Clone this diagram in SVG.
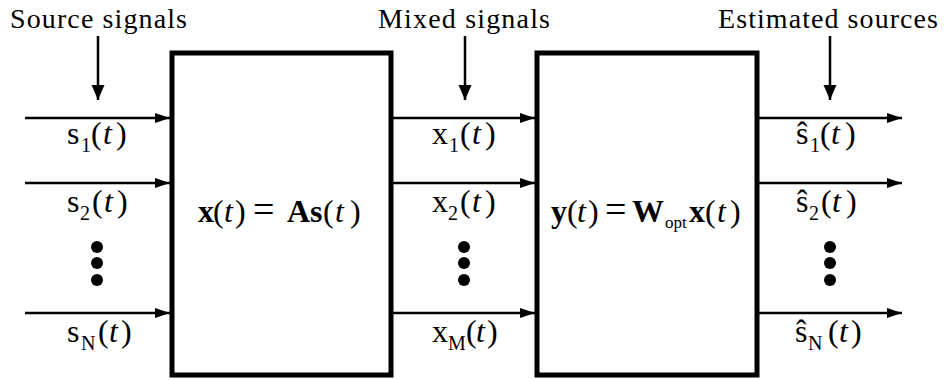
<svg xmlns="http://www.w3.org/2000/svg" width="944" height="380" viewBox="0 0 944 380">
<defs>
<style>
.box{fill:#fff;stroke:#000;stroke-width:5}
.ln{stroke:#000;stroke-width:2.5;fill:none}
.dn{stroke:#000;stroke-width:2.5;fill:none}
text{font-family:'Liberation Serif','DejaVu Serif',serif;fill:#000}
.hd{font-size:28px}
.lb{font-size:32px}
.sb{font-size:20px}
.it{font-style:italic}
.bd{font-weight:bold}
.dot{fill:#000}
</style>
<marker id="ah" markerUnits="userSpaceOnUse" markerWidth="16" markerHeight="11" refX="15" refY="5" orient="auto">
<path d="M0,0 L15,5 L0,10 Z" fill="#000"/>
</marker>
<marker id="ahd" markerUnits="userSpaceOnUse" markerWidth="16" markerHeight="14" refX="15" refY="6.5" orient="auto">
<path d="M0,0 L15,6.5 L0,13 Z" fill="#000"/>
</marker>
</defs>
<rect width="944" height="380" fill="#fff"/>

<g id="connectors">
<line class="dn" x1="98" y1="36" x2="98" y2="100" marker-end="url(#ahd)"/>
<line class="dn" x1="465" y1="36" x2="465" y2="100" marker-end="url(#ahd)"/>
<line class="dn" x1="830" y1="36" x2="830" y2="100" marker-end="url(#ahd)"/>
<line class="ln" x1="25" y1="118" x2="170" y2="118" marker-end="url(#ah)"/>
<line class="ln" x1="25" y1="183" x2="170" y2="183" marker-end="url(#ah)"/>
<line class="ln" x1="25" y1="313" x2="170" y2="313" marker-end="url(#ah)"/>
<line class="ln" x1="393" y1="118" x2="535" y2="118" marker-end="url(#ah)"/>
<line class="ln" x1="393" y1="183" x2="535" y2="183" marker-end="url(#ah)"/>
<line class="ln" x1="393" y1="313" x2="535" y2="313" marker-end="url(#ah)"/>
<line class="ln" x1="759" y1="118" x2="902" y2="118" marker-end="url(#ah)"/>
<line class="ln" x1="759" y1="183" x2="902" y2="183" marker-end="url(#ah)"/>
<line class="ln" x1="759" y1="313" x2="902" y2="313" marker-end="url(#ah)"/>
</g>

<g id="mixing">
<rect class="box" x="172" y="53" width="219" height="322"/>
<text class="lb" y="222"><tspan class="bd" x="198">x</tspan><tspan x="213">(</tspan><tspan class="it" x="224">t</tspan><tspan x="235">)</tspan><tspan x="253" style="font-size:38px">=</tspan><tspan class="bd" x="287">A</tspan><tspan class="bd" x="310">s</tspan><tspan x="323">(</tspan><tspan class="it" x="335">t</tspan><tspan x="350">)</tspan></text>
</g>

<g id="separation">
<rect class="box" x="537" y="53" width="220" height="322"/>
<text class="lb" y="222"><tspan class="bd" x="551">y</tspan><tspan x="567">(</tspan><tspan class="it" x="577">t</tspan><tspan x="588">)</tspan><tspan x="605" style="font-size:38px">=</tspan><tspan class="bd" x="632">W</tspan><tspan x="665" dy="6" style="font-size:17px">opt</tspan><tspan class="bd" x="689" dy="-6">x</tspan><tspan x="705">(</tspan><tspan class="it" x="717">t</tspan><tspan x="730">)</tspan></text>
</g>

<g id="sources">
<text class="hd" x="10" y="28" textLength="177" lengthAdjust="spacing">Source signals</text>
<text class="lb" y="144"><tspan x="67">s</tspan><tspan class="sb" x="81" dy="8">1</tspan><tspan x="91" dy="-8">(</tspan><tspan class="it" x="103">t</tspan><tspan x="116">)</tspan></text>
<text class="lb" y="212"><tspan x="67">s</tspan><tspan class="sb" x="80" dy="8">2</tspan><tspan x="92" dy="-8">(</tspan><tspan class="it" x="104">t</tspan><tspan x="117">)</tspan></text>
<circle class="dot" cx="97" cy="247" r="6"/>
<circle class="dot" cx="97" cy="263" r="6"/>
<circle class="dot" cx="97" cy="280" r="6"/>
<text class="lb" y="342"><tspan x="67">s</tspan><tspan class="sb" x="81" dy="8">N</tspan><tspan x="98" dy="-8">(</tspan><tspan class="it" x="109">t</tspan><tspan x="121">)</tspan></text>
</g>

<g id="mixed">
<text class="hd" x="378" y="28" textLength="172" lengthAdjust="spacing">Mixed signals</text>
<text class="lb" y="144"><tspan x="432">x</tspan><tspan class="sb" x="449" dy="8">1</tspan><tspan x="460" dy="-8">(</tspan><tspan class="it" x="472">t</tspan><tspan x="485">)</tspan></text>
<text class="lb" y="212"><tspan x="432">x</tspan><tspan class="sb" x="448" dy="8">2</tspan><tspan x="460" dy="-8">(</tspan><tspan class="it" x="472">t</tspan><tspan x="485">)</tspan></text>
<circle class="dot" cx="464" cy="247" r="6"/>
<circle class="dot" cx="464" cy="263" r="6"/>
<circle class="dot" cx="464" cy="280" r="6"/>
<text class="lb" y="342"><tspan x="432">x</tspan><tspan class="sb" x="448" dy="8">M</tspan><tspan x="466" dy="-8">(</tspan><tspan class="it" x="476">t</tspan><tspan x="487">)</tspan></text>
</g>

<g id="estimated">
<text class="hd" x="718" y="28" textLength="220" lengthAdjust="spacing">Estimated sources</text>
<text class="lb" y="144"><tspan x="796">ŝ</tspan><tspan class="sb" x="810" dy="8">1</tspan><tspan x="820" dy="-8">(</tspan><tspan class="it" x="831">t</tspan><tspan x="845">)</tspan></text>
<text class="lb" y="212"><tspan x="796">ŝ</tspan><tspan class="sb" x="809" dy="8">2</tspan><tspan x="821" dy="-8">(</tspan><tspan class="it" x="832">t</tspan><tspan x="846">)</tspan></text>
<circle class="dot" cx="830" cy="247" r="6"/>
<circle class="dot" cx="830" cy="263" r="6"/>
<circle class="dot" cx="830" cy="280" r="6"/>
<text class="lb" y="342"><tspan x="795">ŝ</tspan><tspan class="sb" x="808" dy="8">N</tspan><tspan x="828" dy="-8">(</tspan><tspan class="it" x="839">t</tspan><tspan x="851">)</tspan></text>
</g>
</svg>
